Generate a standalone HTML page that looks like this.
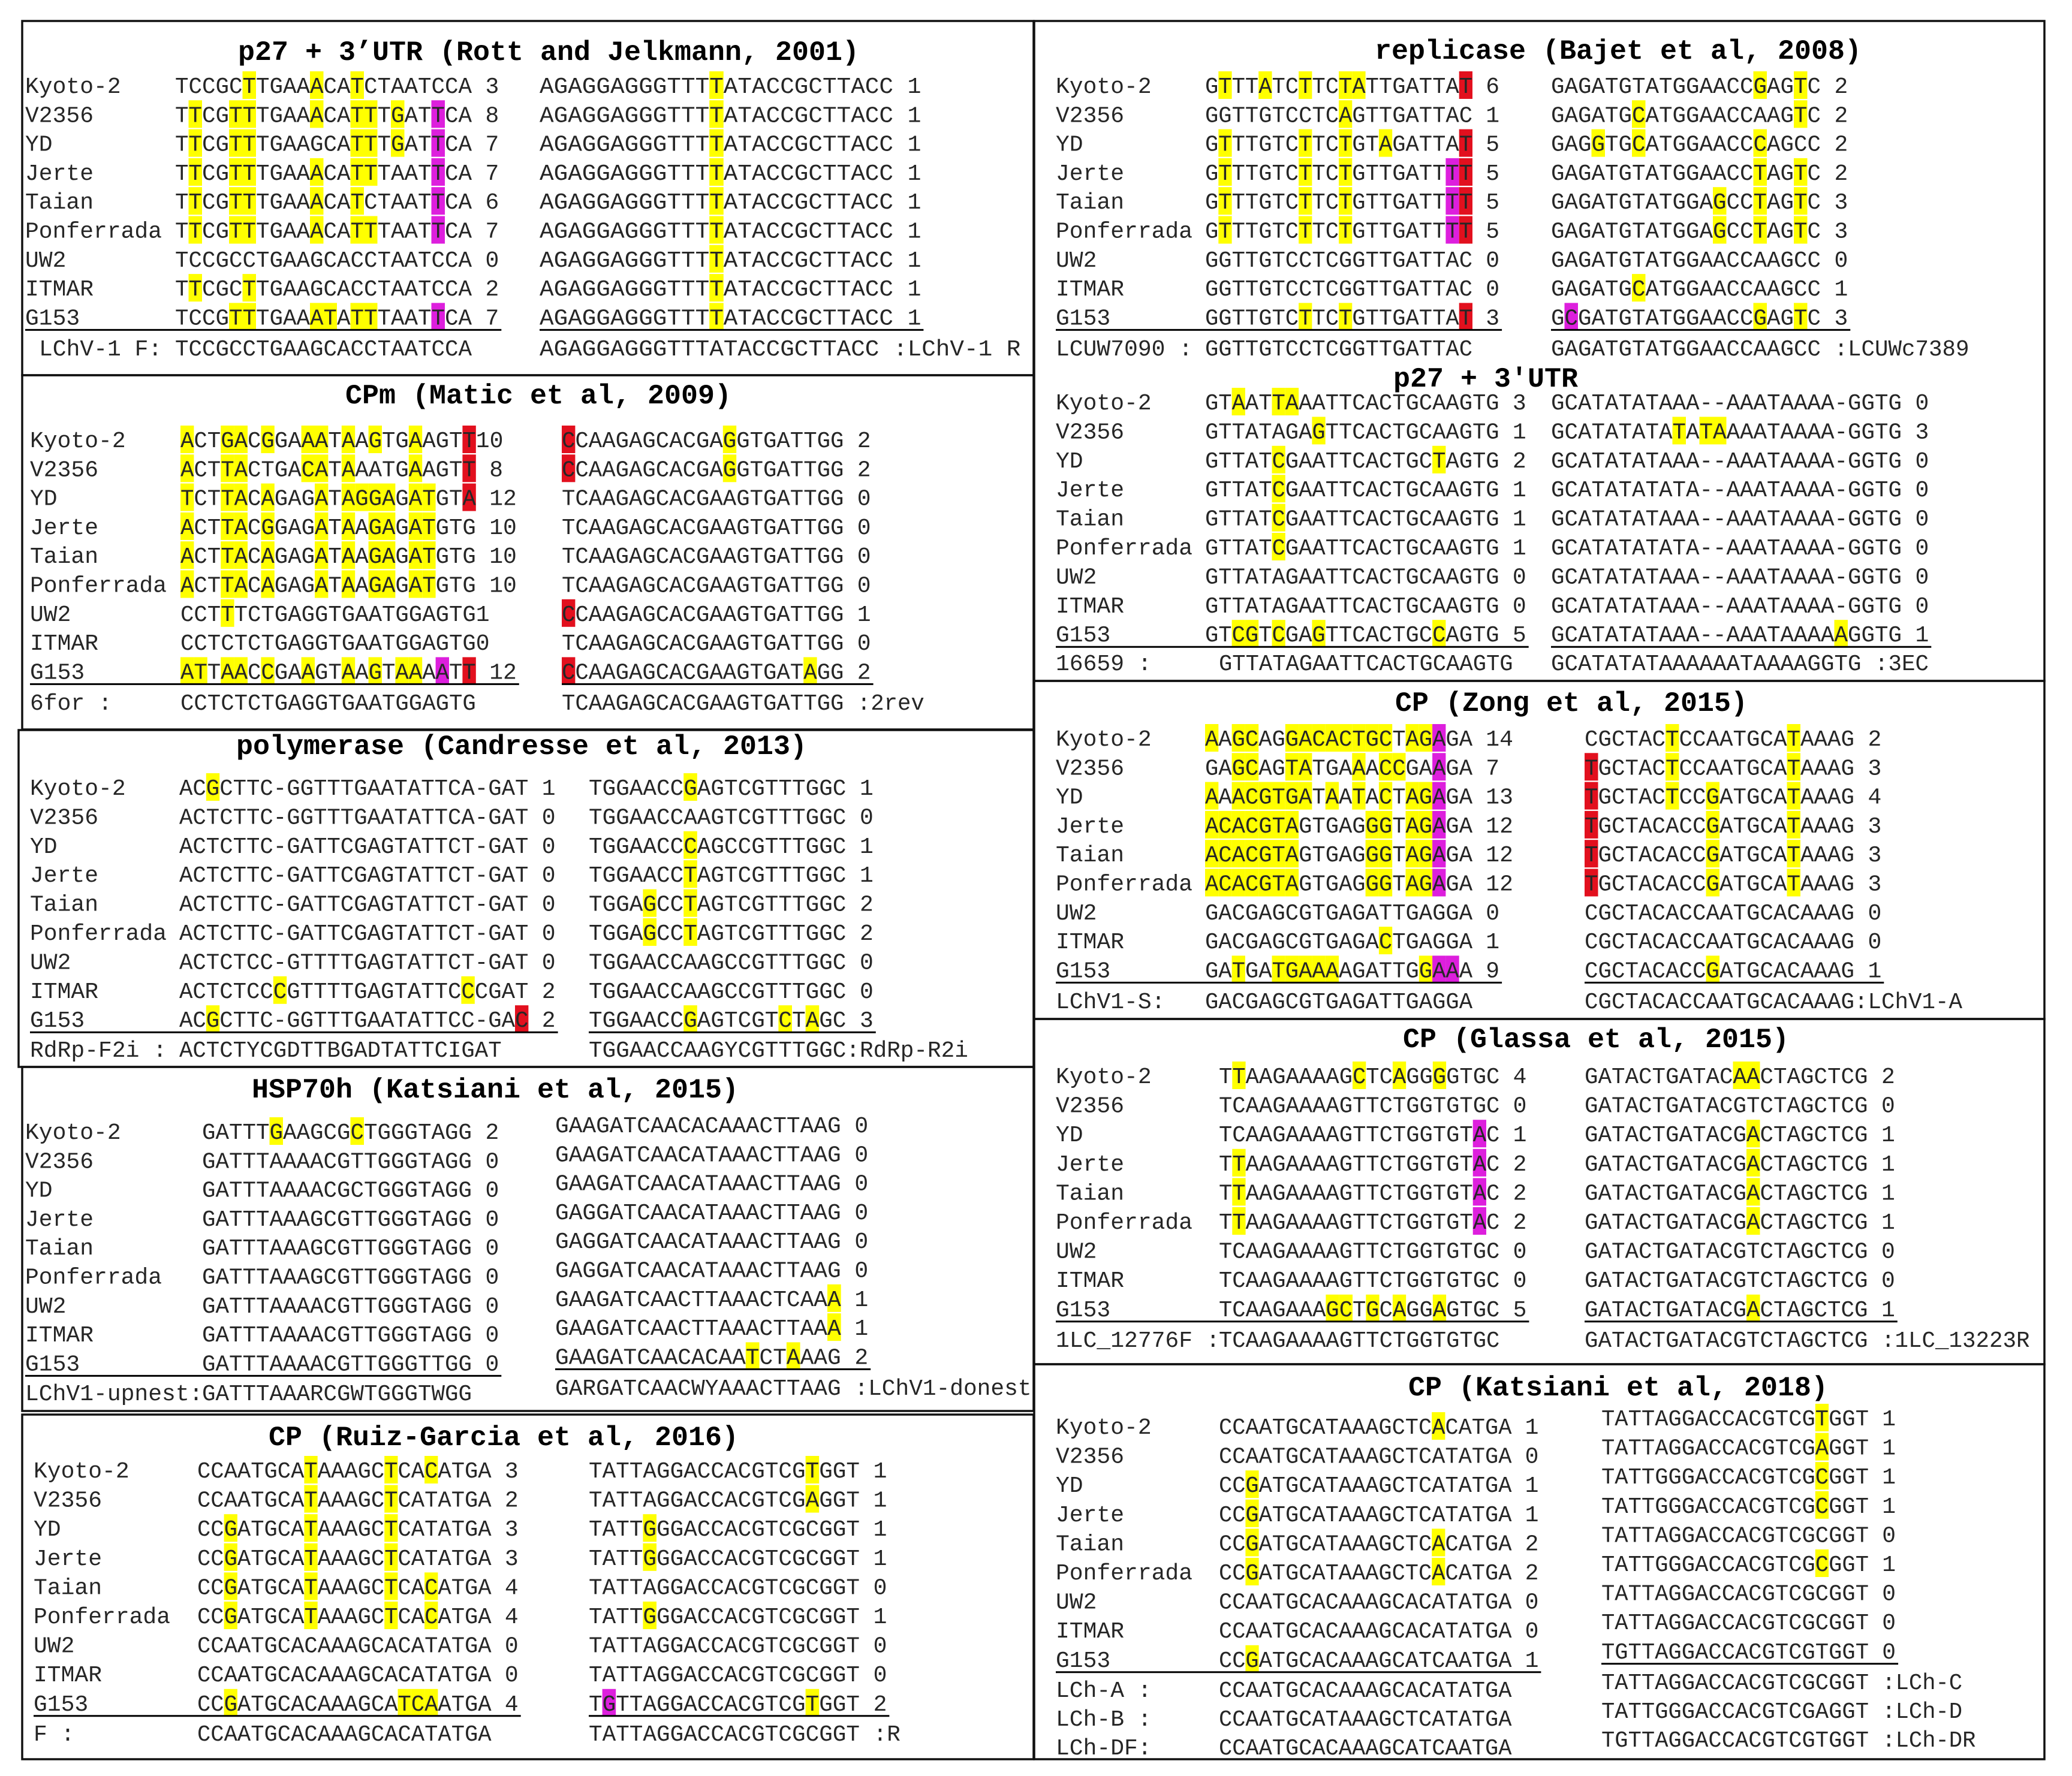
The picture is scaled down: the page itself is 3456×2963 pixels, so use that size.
<!DOCTYPE html>
<html>
<head>
<meta charset="utf-8">
<style>
html,body{margin:0;padding:0;background:#fff;}
svg{display:block;}
</style>
</head>
<body>
<svg id="fig" xmlns="http://www.w3.org/2000/svg" width="3456" height="2963" viewBox="0 0 3456 2963">
<rect x="0" y="0" width="3456" height="2963" fill="#fff"/>
</svg>
<script>
const strains = ['Kyoto-2','V2356','YD','Jerte','Taian','Ponferrada','UW2','ITMAR','G153'];

// Panel A: p27 + 3'UTR (Rott and Jelkmann, 2001)
const A_s1 = ['TCCGCTTGAAACATCTAATCCA','TTCGTTTGAAACATTTGATTCA','TTCGTTTGAAGCATTTGATTCA','TTCGTTTGAAACATTTAATTCA','TTCGTTTGAAACATCTAATTCA','TTCGTTTGAAACATTTAATTCA','TCCGCCTGAAGCACCTAATCCA','TTCGCTTGAAGCACCTAATCCA','TCCGTTTGAAATATTTAATTCA'];
const A_n1 = ['3','8','7','7','6','7','0','2','7'];
const A_s2 = Array(9).fill('AGAGGAGGGTTTTATACCGCTTACC');
const A_n2 = ['1','1','1','1','1','1','1','1','1'];
const A_prim = [['LChV-1 F:','TCCGCCTGAAGCACCTAATCCA','AGAGGAGGGTTTATACCGCTTACC',' :LChV-1 R']];

// Panel B: CPm (Matic et al, 2009)
const B_s1 = ['ACTGACGGAAATAAGTGAAGTT','ACTTACTGACATAAATGAAGTT','TCTTACAGAGATAGGAGATGTA','ACTTACGGAGATAAGAGATGTG','ACTTACAGAGATAAGAGATGTG','ACTTACAGAGATAAGAGATGTG','CCTTTCTGAGGTGAATGGAGTG','CCTCTCTGAGGTGAATGGAGTG','ATTAACCGAAGTAAGTAAAATT'];
const B_n1 = ['10','8','12','10','10','10','1','0','12'];
const B_s2 = ['CCAAGAGCACGAGGTGATTGG','CCAAGAGCACGAGGTGATTGG','TCAAGAGCACGAAGTGATTGG','TCAAGAGCACGAAGTGATTGG','TCAAGAGCACGAAGTGATTGG','TCAAGAGCACGAAGTGATTGG','CCAAGAGCACGAAGTGATTGG','TCAAGAGCACGAAGTGATTGG','CCAAGAGCACGAAGTGATAGG'];
const B_n2 = ['2','2','0','0','0','0','1','0','2'];
const B_prim = [['6for :','CCTCTCTGAGGTGAATGGAGTG','TCAAGAGCACGAAGTGATTGG',' :2rev']];

// Panel C: polymerase (Candresse et al, 2013)
const C_s1 = ['ACGCTTC-GGTTTGAATATTCA-GAT','ACTCTTC-GGTTTGAATATTCA-GAT','ACTCTTC-GATTCGAGTATTCT-GAT','ACTCTTC-GATTCGAGTATTCT-GAT','ACTCTTC-GATTCGAGTATTCT-GAT','ACTCTTC-GATTCGAGTATTCT-GAT','ACTCTCC-GTTTTGAGTATTCT-GAT','ACTCTCCCGTTTTGAGTATTCCCGAT','ACGCTTC-GGTTTGAATATTCC-GAC'];
const C_n1 = ['1','0','0','0','0','0','0','2','2'];
const C_s2 = ['TGGAACCGAGTCGTTTGGC','TGGAACCAAGTCGTTTGGC','TGGAACCCAGCCGTTTGGC','TGGAACCTAGTCGTTTGGC','TGGAGCCTAGTCGTTTGGC','TGGAGCCTAGTCGTTTGGC','TGGAACCAAGCCGTTTGGC','TGGAACCAAGCCGTTTGGC','TGGAACCGAGTCGTCTAGC'];
const C_n2 = ['1','0','1','1','2','2','0','0','3'];
const C_prim = [['RdRp-F2i :','ACTCTYCGDTTBGADTATTCIGAT','TGGAACCAAGYCGTTTGGC',':RdRp-R2i']];

// Panel D: HSP70h (Katsiani et al, 2015)
const D_s1 = ['GATTTGAAGCGCTGGGTAGG','GATTTAAAACGTTGGGTAGG','GATTTAAAACGCTGGGTAGG','GATTTAAAGCGTTGGGTAGG','GATTTAAAGCGTTGGGTAGG','GATTTAAAGCGTTGGGTAGG','GATTTAAAACGTTGGGTAGG','GATTTAAAACGTTGGGTAGG','GATTTAAAACGTTGGGTTGG'];
const D_n1 = ['2','0','0','0','0','0','0','0','0'];
const D_s2 = ['GAAGATCAACACAAACTTAAG','GAAGATCAACATAAACTTAAG','GAAGATCAACATAAACTTAAG','GAGGATCAACATAAACTTAAG','GAGGATCAACATAAACTTAAG','GAGGATCAACATAAACTTAAG','GAAGATCAACTTAAACTCAAA','GAAGATCAACTTAAACTTAAA','GAAGATCAACACAATCTAAAG'];
const D_n2 = ['0','0','0','0','0','0','1','1','2'];
const D_prim = [['LChV1-upnest:','GATTTAAARCGWTGGGTWGG','GARGATCAACWYAAACTTAAG',' :LChV1-donest']];

// Panel E: CP (Ruiz-Garcia et al, 2016)
const E_s1 = ['CCAATGCATAAAGCTCACATGA','CCAATGCATAAAGCTCATATGA','CCGATGCATAAAGCTCATATGA','CCGATGCATAAAGCTCATATGA','CCGATGCATAAAGCTCACATGA','CCGATGCATAAAGCTCACATGA','CCAATGCACAAAGCACATATGA','CCAATGCACAAAGCACATATGA','CCGATGCACAAAGCATCAATGA'];
const E_n1 = ['3','2','3','3','4','4','0','0','4'];
const E_s2 = ['TATTAGGACCACGTCGTGGT','TATTAGGACCACGTCGAGGT','TATTGGGACCACGTCGCGGT','TATTGGGACCACGTCGCGGT','TATTAGGACCACGTCGCGGT','TATTGGGACCACGTCGCGGT','TATTAGGACCACGTCGCGGT','TATTAGGACCACGTCGCGGT','TGTTAGGACCACGTCGTGGT'];
const E_n2 = ['1','1','1','1','0','1','0','0','2'];
const E_prim = [['F :','CCAATGCACAAAGCACATATGA','TATTAGGACCACGTCGCGGT',' :R']];

// Panel F: replicase (Bajet et al, 2008)
const F_s1 = ['GTTTATCTTCTATTGATTAT','GGTTGTCCTCAGTTGATTAC','GTTTGTCTTCTGTAGATTAT','GTTTGTCTTCTGTTGATTTT','GTTTGTCTTCTGTTGATTTT','GTTTGTCTTCTGTTGATTTT','GGTTGTCCTCGGTTGATTAC','GGTTGTCCTCGGTTGATTAC','GGTTGTCTTCTGTTGATTAT'];
const F_n1 = ['6','1','5','5','5','5','0','0','3'];
const F_s2 = ['GAGATGTATGGAACCGAGTC','GAGATGCATGGAACCAAGTC','GAGGTGCATGGAACCCAGCC','GAGATGTATGGAACCTAGTC','GAGATGTATGGAGCCTAGTC','GAGATGTATGGAGCCTAGTC','GAGATGTATGGAACCAAGCC','GAGATGCATGGAACCAAGCC','GCGATGTATGGAACCGAGTC'];
const F_n2 = ['2','2','2','2','3','3','0','1','3'];
const F_prim = [['LCUW7090 :','GGTTGTCCTCGGTTGATTAC','GAGATGTATGGAACCAAGCC',' :LCUWc7389']];

// Panel G: p27 + 3'UTR
const G_s1 = ['GTAATTAAATTCACTGCAAGTG','GTTATAGAGTTCACTGCAAGTG','GTTATCGAATTCACTGCTAGTG','GTTATCGAATTCACTGCAAGTG','GTTATCGAATTCACTGCAAGTG','GTTATCGAATTCACTGCAAGTG','GTTATAGAATTCACTGCAAGTG','GTTATAGAATTCACTGCAAGTG','GTCGTCGAGTTCACTGCCAGTG'];
const G_n1 = ['3','1','2','1','1','1','0','0','5'];
const G_s2 = ['GCATATATAAA--AAATAAAA-GGTG','GCATATATATATAAAATAAAA-GGTG','GCATATATAAA--AAATAAAA-GGTG','GCATATATATA--AAATAAAA-GGTG','GCATATATAAA--AAATAAAA-GGTG','GCATATATATA--AAATAAAA-GGTG','GCATATATAAA--AAATAAAA-GGTG','GCATATATAAA--AAATAAAA-GGTG','GCATATATAAA--AAATAAAAAGGTG'];
const G_n2 = ['0','3','0','0','0','0','0','0','1'];
const G_prim = [['16659 :','GTTATAGAATTCACTGCAAGTG','GCATATATAAAAAATAAAAGGTG',' :3EC']];

// Panel H: CP (Zong et al, 2015)
const H_s1 = ['AAGCAGGACACTGCTAGAGA','GAGCAGTATGAAACCGAAGA','AAACGTGATAATACTAGAGA','ACACGTAGTGAGGGTAGAGA','ACACGTAGTGAGGGTAGAGA','ACACGTAGTGAGGGTAGAGA','GACGAGCGTGAGATTGAGGA','GACGAGCGTGAGACTGAGGA','GATGATGAAAAGATTGGAAA'];
const H_n1 = ['14','7','13','12','12','12','0','1','9'];
const H_s2 = ['CGCTACTCCAATGCATAAAG','TGCTACTCCAATGCATAAAG','TGCTACTCCGATGCATAAAG','TGCTACACCGATGCATAAAG','TGCTACACCGATGCATAAAG','TGCTACACCGATGCATAAAG','CGCTACACCAATGCACAAAG','CGCTACACCAATGCACAAAG','CGCTACACCGATGCACAAAG'];
const H_n2 = ['2','3','4','3','3','3','0','0','1'];
const H_prim = [['LChV1-S:','GACGAGCGTGAGATTGAGGA','CGCTACACCAATGCACAAAG',':LChV1-A']];

// Panel I: CP (Glassa et al, 2015)
const I_s1 = ['TTAAGAAAAGCTCAGGGGTGC','TCAAGAAAAGTTCTGGTGTGC','TCAAGAAAAGTTCTGGTGTAC','TTAAGAAAAGTTCTGGTGTAC','TTAAGAAAAGTTCTGGTGTAC','TTAAGAAAAGTTCTGGTGTAC','TCAAGAAAAGTTCTGGTGTGC','TCAAGAAAAGTTCTGGTGTGC','TCAAGAAAGCTGCAGGAGTGC'];
const I_n1 = ['4','0','1','2','2','2','0','0','5'];
const I_s2 = ['GATACTGATACAACTAGCTCG','GATACTGATACGTCTAGCTCG','GATACTGATACGACTAGCTCG','GATACTGATACGACTAGCTCG','GATACTGATACGACTAGCTCG','GATACTGATACGACTAGCTCG','GATACTGATACGTCTAGCTCG','GATACTGATACGTCTAGCTCG','GATACTGATACGACTAGCTCG'];
const I_n2 = ['2','0','1','1','1','1','0','0','1'];
const I_prim = [['1LC_12776F :','TCAAGAAAAGTTCTGGTGTGC','GATACTGATACGTCTAGCTCG',' :1LC_13223R']];

// Panel J: CP (Katsiani et al, 2018)
const J_s1 = ['CCAATGCATAAAGCTCACATGA','CCAATGCATAAAGCTCATATGA','CCGATGCATAAAGCTCATATGA','CCGATGCATAAAGCTCATATGA','CCGATGCATAAAGCTCACATGA','CCGATGCATAAAGCTCACATGA','CCAATGCACAAAGCACATATGA','CCAATGCACAAAGCACATATGA','CCGATGCACAAAGCATCAATGA'];
const J_n1 = ['1','0','1','1','2','2','0','0','1'];
const J_s2 = ['TATTAGGACCACGTCGTGGT','TATTAGGACCACGTCGAGGT','TATTGGGACCACGTCGCGGT','TATTGGGACCACGTCGCGGT','TATTAGGACCACGTCGCGGT','TATTGGGACCACGTCGCGGT','TATTAGGACCACGTCGCGGT','TATTAGGACCACGTCGCGGT','TGTTAGGACCACGTCGTGGT'];
const J_n2 = ['1','1','1','1','0','1','0','0','0'];
const J_prim = [['LCh-A :','CCAATGCACAAAGCACATATGA','TATTAGGACCACGTCGCGGT',' :LCh-C'],['LCh-B :','CCAATGCATAAAGCTCATATGA','TATTGGGACCACGTCGAGGT',' :LCh-D'],['LCh-DF:','CCAATGCACAAAGCATCAATGA','TGTTAGGACCACGTCGTGGT',' :LCh-DR']];

// manual highlight overrides (mismatch positions)
const C_h1 = [[2],[],[],[],[],[],[],[7,21],[2]];
const D_h1 = [[5,11],[],[],[],[],[],[],[],[]];
const D_h2 = [[],[],[],[],[],[],[20],[20],[14,17]];
const G_h2 = [[],[9,11,12],[],[],[],[],[],[],[21]];
const J_h1 = [[16],[],[2],[2],[2,16],[2,16],[],[],[2]];
const J_h2 = [[16],[16],[16],[16],[],[16],[],[],[]];

// special coloured positions: panel, row, column, index, colour key
const specials = [
 ['A',1,1,19,'m'],['A',2,1,19,'m'],['A',3,1,19,'m'],['A',4,1,19,'m'],['A',5,1,19,'m'],['A',8,1,19,'m'],
 ['B',0,1,21,'r'],['B',1,1,21,'r'],['B',2,1,21,'r'],['B',8,1,19,'m'],['B',8,1,21,'r'],
 ['B',0,2,0,'r'],['B',1,2,0,'r'],['B',6,2,0,'r'],['B',8,2,0,'r'],
 ['C',8,1,25,'r'],
 ['E',8,2,1,'m'],
 ['F',0,1,19,'r'],['F',2,1,19,'r'],['F',3,1,19,'r'],['F',4,1,19,'r'],['F',5,1,19,'r'],['F',8,1,19,'r'],
 ['F',3,1,18,'m'],['F',4,1,18,'m'],['F',5,1,18,'m'],['F',8,2,1,'m'],
 ['H',0,1,17,'m'],['H',1,1,17,'m'],['H',2,1,17,'m'],['H',3,1,17,'m'],['H',4,1,17,'m'],['H',5,1,17,'m'],['H',8,1,17,'m'],['H',8,1,18,'m'],
 ['H',1,2,0,'r'],['H',2,2,0,'r'],['H',3,2,0,'r'],['H',4,2,0,'r'],['H',5,2,0,'r'],
 ['I',2,1,19,'m'],['I',3,1,19,'m'],['I',4,1,19,'m'],['I',5,1,19,'m']
];

const COLORS = {y:'#ffff00', m:'#dd1fdd', r:'#e2101e'};

// layout (positions only)
const panels = [
 {k:'A',name:'p27-rott-panel',title:'p27 + 3\u2019UTR (Rott and Jelkmann, 2001)',box:[37,35,1724,626],tx:915,ty:85,lx:42,y0:142,y0b:142,pitch:48.3,s1x:292,cw1:22.5,s2x:900,cw2:23.6,s1:A_s1,n1:A_n1,s2:A_s2,n2:A_n2,prim:A_prim,py:[580],pyb:[580],plx:65,ps1x:292,ref1:'TCCGCCTGAAGCACCTAATCCA',ref2:'AGAGGAGGGTTTCATACCGCTTACC',gap0:[]},
 {k:'B',name:'cpm-matic-panel',title:'CPm (Matic et al, 2009)',box:[37,626,1724,1217],tx:898,ty:658,lx:50,y0:733,y0b:733,pitch:48.3,s1x:301,cw1:22.4,s2x:937,cw2:22.4,s1:B_s1,n1:B_n1,s2:B_s2,n2:B_n2,prim:B_prim,py:[1171],pyb:[1171],plx:50,ps1x:301,ref1:'CCTCTCTGAGGTGAATGGAGTG',ref2:'TCAAGAGCACGAAGTGATTGG',gap0:[0,6,7]},
 {k:'C',name:'polymerase-candresse-panel',title:'polymerase (Candresse et al, 2013)',box:[31,1218,1724,1780],tx:870,ty:1243,lx:50,y0:1313,y0b:1313,pitch:48.4,s1x:299,cw1:22.4,s2x:982,cw2:22.6,s1:C_s1,n1:C_n1,s2:C_s2,n2:C_n2,prim:C_prim,py:[1750],pyb:[1750],plx:50,ps1x:299,h1:C_h1,ref2:'TGGAACCAAGNCGTTTGGC',gap0:[]},
 {k:'D',name:'hsp70h-katsiani-panel',title:'HSP70h (Katsiani et al, 2015)',box:[37,1780,1724,2354],tx:826,ty:1816,lx:42,y0:1887,y0b:1876,pitch:48.3,s1x:337,cw1:22.5,s2x:926,cw2:22.7,s1:D_s1,n1:D_n1,s2:D_s2,n2:D_n2,prim:D_prim,py:[2323],pyb:[2314],plx:42,ps1x:337,h1:D_h1,h2:D_h2,gap0:[]},
 {k:'E',name:'cp-ruiz-garcia-panel',title:'CP (Ruiz-Garcia et al, 2016)',box:[37,2360,1724,2935],tx:840,ty:2396,lx:56,y0:2452,y0b:2452,pitch:48.6,s1x:329,cw1:22.3,s2x:982,cw2:22.6,s1:E_s1,n1:E_n1,s2:E_s2,n2:E_n2,prim:E_prim,py:[2891],pyb:[2891],plx:56,ps1x:329,ref1:'CCAATGCACAAAGCACATATGA',ref2:'TATTAGGACCACGTCGCGGT',gap0:[]},
 {k:'F',name:'replicase-bajet-panel',title:'replicase (Bajet et al, 2008)',box:[1725,35,3410,1136],tx:2699,ty:83,lx:1761,y0:142,y0b:142,pitch:48.3,s1x:2010,cw1:22.3,s2x:2587,cw2:22.5,s1:F_s1,n1:F_n1,s2:F_s2,n2:F_n2,prim:F_prim,py:[580],pyb:[580],plx:1761,ps1x:2010,ref1:'GGTTGTCCTCGGTTGATTAC',ref2:'GAGATGTATGGAACCAAGCC',gap0:[]},
 {k:'G',name:'p27-3utr-panel',title:"p27 + 3'UTR",box:null,tx:2478,ty:630,lx:1761,y0:670,y0b:670,pitch:48.4,s1x:2010,cw1:22.3,s2x:2587,cw2:22.5,s1:G_s1,n1:G_n1,s2:G_s2,n2:G_n2,prim:G_prim,py:[1105],pyb:[1105],plx:1761,ps1x:2033,ref1:'GTTATAGAATTCACTGCAAGTG',h2:G_h2,gap0:[]},
 {k:'H',name:'cp-zong-panel',title:'CP (Zong et al, 2015)',box:[1725,1136,3410,1700],tx:2621,ty:1171,lx:1761,y0:1231,y0b:1231,pitch:48.3,s1x:2010,cw1:22.3,s2x:2643,cw2:22.5,s1:H_s1,n1:H_n1,s2:H_s2,n2:H_n2,prim:H_prim,py:[1669],pyb:[1669],plx:1761,ps1x:2010,ref1:'GACGAGCGTGAGATTGAGGA',ref2:'CGCTACACCAATGCACAAAG',gap0:[]},
 {k:'I',name:'cp-glassa-panel',title:'CP (Glassa et al, 2015)',box:[1725,1700,3410,2276],tx:2662,ty:1732,lx:1761,y0:1794,y0b:1794,pitch:48.6,s1x:2033,cw1:22.3,s2x:2643,cw2:22.5,s1:I_s1,n1:I_n1,s2:I_s2,n2:I_n2,prim:I_prim,py:[2234],pyb:[2234],plx:1761,ps1x:2033,ref1:'TCAAGAAAAGTTCTGGTGTGC',ref2:'GATACTGATACGTCTAGCTCG',gap0:[]},
 {k:'J',name:'cp-katsiani-2018-panel',title:'CP (Katsiani et al, 2018)',box:[1725,2276,3410,2935],tx:2699,ty:2313,lx:1761,y0:2379,y0b:2365,pitch:48.6,s1x:2033,cw1:22.2,s2x:2671,cw2:22.3,s1:J_s1,n1:J_n1,s2:J_s2,n2:J_n2,prim:J_prim,py:[2818,2866,2914],pyb:[2805,2853,2901],plx:1761,ps1x:2033,h1:J_h1,h2:J_h2,gap0:[]}
];

const NS = 'http://www.w3.org/2000/svg';
const svg = document.getElementById('fig');
function mk(tag, attrs, parent){
  const e = document.createElementNS(NS, tag);
  for (const a in attrs) e.setAttribute(a, attrs[a]);
  parent.appendChild(e);
  return e;
}
const SEQFONT = '"Liberation Mono", "DejaVu Sans Mono", monospace';

function autoHL(s, ref){
  const out = [];
  if (!ref) return out;
  for (let i=0;i<s.length;i++){
    const c = s[i], r = ref[i];
    if (r===undefined || r==='N' || c==='-') continue;
    if (c!==r) out.push(i);
  }
  return out;
}

function drawSeq(g, s, x, y, cw, hl, spec, nm){
  const map = {};
  hl.forEach(i=>{map[i]='y';});
  spec.forEach(sp=>{map[sp[0]]=sp[1];});
  for (const k in map){
    const r = mk('rect',{x:(x+Number(k)*cw).toFixed(1),y:(y-23).toFixed(1),width:cw.toFixed(1),height:46,fill:COLORS[map[k]]},g);
    
    
  }
  const t = mk('text',{x:x,y:(y+13).toFixed(1),'font-family':SEQFONT,'font-size':38,fill:'#262626',textLength:(s.length*cw).toFixed(1),lengthAdjust:'spacingAndGlyphs'},g);
  
  
  t.textContent = s;
}
function plainText(g, s, x, y, nm, size, weight, anchor, tl){
  const at = {x:x,y:y,'font-family':SEQFONT,'font-size':size||38,fill:weight?'#000':'#262626'};
  if (weight) at['font-weight']=weight;
  if (anchor) at['text-anchor']=anchor;
  if (tl){at.textLength=tl;at.lengthAdjust='spacingAndGlyphs';}
  const t = mk('text',at,g);
  
  
  t.textContent = s;
  return t;
}

panels.forEach(p=>{
  const g = mk('g',{},svg);
  
  
  if (p.box){
    const b = p.box;
    const r = mk('rect',{x:b[0],y:b[1],width:b[2]-b[0],height:b[3]-b[1],fill:'none',stroke:'#111','stroke-width':3.5},g);
    
    
  }
  plainText(g, p.title, p.tx, p.ty+15, 'panel-title', 46, 'bold', 'middle', p.title.length*28);
  const sp = specials.filter(s=>s[0]===p.k);
  strains.forEach((lab,i)=>{
    const y = p.y0 + i*p.pitch;
    const yb = p.y0b + i*p.pitch;
    plainText(g, lab, p.lx, y+13, 'strain-label');
    const s1 = p.s1[i], s2 = p.s2[i];
    const h1 = p.h1 ? p.h1[i] : autoHL(s1, p.ref1);
    const h2 = p.h2 ? p.h2[i] : autoHL(s2, p.ref2);
    drawSeq(g, s1, p.s1x, y, p.cw1, h1, sp.filter(s=>s[1]===i&&s[2]===1).map(s=>[s[3],s[4]]), 'sequence-forward');
    drawSeq(g, s2, p.s2x, yb, p.cw2, h2, sp.filter(s=>s[1]===i&&s[2]===2).map(s=>[s[3],s[4]]), 'sequence-reverse');
    const gap = p.gap0.indexOf(i)>=0 ? 0 : p.cw1;
    const n1x = p.s1x + s1.length*p.cw1 + gap;
    const n2x = p.s2x + s2.length*p.cw2 + p.cw2;
    plainText(g, p.n1[i], n1x.toFixed(1), y+13, 'mismatch-count-forward');
    plainText(g, p.n2[i], n2x.toFixed(1), yb+13, 'mismatch-count-reverse');
    if (i===strains.length-1){
      const u1 = mk('line',{x1:p.lx,y1:y+22,x2:(n1x+p.n1[i].length*22.8+4).toFixed(1),y2:y+22,stroke:'#000','stroke-width':3},g);
      
      
      const u2 = mk('line',{x1:p.s2x,y1:yb+22,x2:(n2x+p.n2[i].length*22.8+4).toFixed(1),y2:yb+22,stroke:'#000','stroke-width':3},g);
      
      
    }
  });
  p.prim.forEach((pr,j)=>{
    const y = p.py[j], yb = p.pyb[j];
    plainText(g, pr[0], p.plx, y+13, 'primer-label');
    drawSeq(g, pr[1], p.ps1x, y, p.cw1, [], [], 'primer-forward');
    drawSeq(g, pr[2], p.s2x, yb, p.cw2, [], [], 'primer-reverse');
    const lead = pr[3].length - pr[3].replace(/^ +/,'').length;
    const suf = pr[3].replace(/^ +/,'');
    plainText(g, suf, (p.s2x + (pr[2].length+lead)*p.cw2).toFixed(1), yb+13, 'primer-name-reverse', 38, null, null, (suf.length*p.cw2).toFixed(1));
  });
});
</script>
</body>
</html>
